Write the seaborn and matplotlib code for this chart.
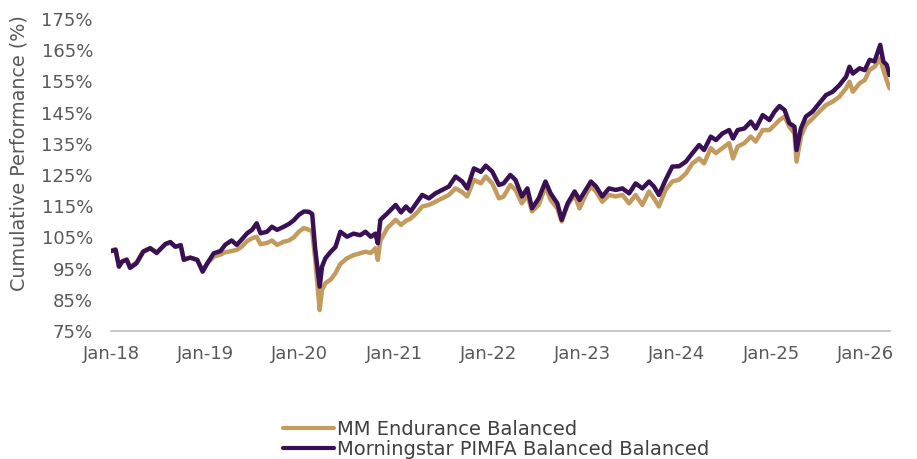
import matplotlib
matplotlib.use("Agg")
import matplotlib.pyplot as plt
import matplotlib.dates as mdates
import seaborn as sns
import pandas as pd

# ---------------- data ----------------
dates = [
    "2018-01-01", "2018-01-19", "2018-02-01", "2018-02-13", "2018-03-03", "2018-03-16",
    "2018-04-10", "2018-05-06", "2018-06-02", "2018-06-27", "2018-07-31", "2018-08-19",
    "2018-09-07", "2018-09-28", "2018-10-10", "2018-11-04", "2018-12-01", "2018-12-22",
    "2019-01-09", "2019-02-03", "2019-03-01", "2019-03-19", "2019-04-13", "2019-05-03",
    "2019-05-22", "2019-06-12", "2019-07-01", "2019-07-19", "2019-08-03", "2019-08-28",
    "2019-09-16", "2019-10-06", "2019-11-01", "2019-11-21", "2019-12-10", "2019-12-29",
    "2020-01-18", "2020-02-06", "2020-02-19", "2020-03-02", "2020-03-19", "2020-03-28",
    "2020-04-10", "2020-05-01", "2020-05-19", "2020-06-07", "2020-07-03", "2020-07-28",
    "2020-08-23", "2020-09-12", "2020-10-03", "2020-10-21", "2020-10-30", "2020-11-09",
    "2020-12-06", "2021-01-07", "2021-01-28", "2021-02-16", "2021-03-06", "2021-04-01",
    "2021-04-20", "2021-05-16", "2021-06-10", "2021-07-06", "2021-08-01", "2021-08-27",
    "2021-09-22", "2021-10-11", "2021-11-06", "2021-12-03", "2021-12-22", "2022-01-16",
    "2022-02-11", "2022-03-01", "2022-03-27", "2022-04-16", "2022-05-11", "2022-06-01",
    "2022-06-19", "2022-07-15", "2022-08-10", "2022-08-30", "2022-09-25", "2022-10-12",
    "2022-11-04", "2022-12-01", "2022-12-20", "2023-01-13", "2023-02-02", "2023-02-22",
    "2023-03-18", "2023-04-13", "2023-05-09", "2023-06-04", "2023-06-30", "2023-07-25",
    "2023-08-20", "2023-09-15", "2023-10-04", "2023-10-23", "2023-11-18", "2023-12-14",
    "2024-01-10", "2024-02-05", "2024-03-01", "2024-03-27", "2024-04-15", "2024-05-11",
    "2024-05-31", "2024-06-25", "2024-07-21", "2024-08-05", "2024-08-23", "2024-09-18",
    "2024-10-13", "2024-11-01", "2024-11-28", "2024-12-24", "2025-01-13", "2025-02-01",
    "2025-02-21", "2025-03-11", "2025-03-31", "2025-04-08", "2025-04-25", "2025-05-14",
    "2025-06-09", "2025-07-05", "2025-07-31", "2025-08-26", "2025-09-21", "2025-10-17",
    "2025-10-30", "2025-11-12", "2025-12-08", "2025-12-28", "2026-01-16", "2026-02-04",
    "2026-02-26", "2026-03-10", "2026-03-23", "2026-04-03",
]

morningstar = [
    100.6, 101.0, 95.6, 97.2, 97.8, 95.2,
    96.7, 100.4, 101.5, 100.0, 102.9, 103.5,
    102.0, 102.5, 97.8, 98.5, 97.8, 94.0,
    96.7, 99.9, 100.6, 102.6, 104.0, 102.6,
    104.3, 106.3, 107.4, 109.5, 106.3, 106.8,
    108.4, 107.4, 108.4, 109.3, 110.5, 112.2,
    113.3, 113.2, 112.5, 101.0, 89.2, 95.6,
    98.3, 100.4, 101.9, 106.8, 105.2, 106.2,
    105.7, 106.8, 105.2, 106.2, 103.1, 110.6,
    112.7, 115.4, 113.0, 114.9, 113.3, 116.4,
    118.6, 117.5, 119.1, 120.2, 121.3, 124.5,
    122.9, 120.7, 127.1, 126.0, 128.0, 126.1,
    121.8, 122.3, 125.0, 123.4, 118.1, 120.7,
    114.3, 117.5, 122.9, 119.1, 115.9, 110.6,
    115.9, 119.7, 117.0, 120.2, 122.9, 121.3,
    118.1, 120.7, 120.2, 120.7, 119.1, 122.3,
    120.7, 122.9, 121.3, 118.6, 123.4, 127.7,
    127.8, 129.3, 132.0, 134.6, 133.0, 137.3,
    136.2, 138.3, 139.4, 136.7, 139.4, 139.9,
    142.1, 139.9, 144.2, 142.6, 145.3, 147.1,
    145.8, 141.6, 140.5, 133.0, 139.9, 143.7,
    145.3, 148.0, 150.6, 151.7, 153.8, 156.5,
    159.7, 157.5, 159.2, 158.6, 161.9, 161.4,
    166.7, 161.4, 160.3, 157.0,
]

endurance = [
    100.8, 101.2, 95.8, 97.4, 98.0, 95.5,
    97.0, 100.6, 101.6, 100.2, 102.8, 103.3,
    102.0, 102.3, 98.0, 98.5, 97.8, 94.3,
    96.7, 98.8, 99.5, 100.2, 100.6, 101.0,
    102.0, 103.8, 104.7, 105.2, 102.8, 103.2,
    104.0, 102.6, 103.6, 104.0, 105.0, 106.8,
    108.0, 107.4, 107.0, 97.8, 81.7, 88.1,
    90.3, 91.5, 93.5, 96.5, 98.3, 99.3,
    99.9, 100.4, 100.0, 101.5, 97.8, 104.0,
    108.0, 110.6, 109.0, 110.3, 111.0, 113.0,
    114.9, 115.4, 116.4, 117.5, 118.6, 120.7,
    119.5, 118.1, 123.4, 122.3, 124.5, 122.3,
    117.5, 118.1, 121.8, 120.2, 115.9, 118.6,
    113.3, 115.4, 121.3, 117.0, 114.3, 110.1,
    115.4, 118.6, 114.3, 118.6, 121.3, 119.7,
    116.4, 118.6, 118.1, 118.6, 115.9, 118.6,
    115.4, 119.7, 117.5, 114.9, 120.2, 122.9,
    123.5, 125.5, 128.7, 130.3, 128.7, 133.6,
    132.0, 133.6, 135.2, 130.3, 134.1, 135.2,
    137.3, 135.7, 139.4, 139.4, 141.0, 142.6,
    143.7, 140.5, 138.3, 129.3, 137.3, 141.0,
    143.1, 145.3, 147.4, 148.5, 150.1, 152.8,
    154.9, 151.7, 154.4, 155.4, 158.7, 159.7,
    162.4, 158.7, 155.4, 152.8,
]

series_names = ["MM Endurance Balanced", "Morningstar PIMFA Balanced Balanced"]
series_colors = ["#C39B5E", "#3A1055"]
y_ticks = list(range(75, 176, 10))
x_tick_dates = [f"{y}-01-01" for y in range(2018, 2027)]
x_tick_labels = [f"Jan-{y % 100:02d}" for y in range(2018, 2027)]

# ---------------- build long-form table ----------------
dt = pd.to_datetime(dates)
df = pd.concat([
    pd.DataFrame({"Date": dt, "Value": endurance, "Series": series_names[0]}),
    pd.DataFrame({"Date": dt, "Value": morningstar, "Series": series_names[1]}),
], ignore_index=True)

sns.set_style("white")
plt.rcParams["font.family"] = ["DejaVu Sans"]

fig = plt.figure(figsize=(9.17, 4.59), dpi=100)
ax = fig.add_axes([0.121, 0.279, 0.8496, 0.6796])

sns.lineplot(data=df, x="Date", y="Value", hue="Series", hue_order=series_names,
             palette=dict(zip(series_names, series_colors)), linewidth=3.2,
             ax=ax, legend=True)

ax.set_ylim(75, 175)
ax.set_yticks(y_ticks)
ax.set_yticklabels([f"{v}%" for v in y_ticks])
ax.set_xlim(pd.Timestamp("2018-01-01"), pd.Timestamp("2026-04-05"))
ax.set_xticks(pd.to_datetime(x_tick_dates))
ax.set_xticklabels(x_tick_labels)

text_color = "#595959"
ax.tick_params(axis="y", length=0, labelsize=13, labelcolor=text_color, pad=13)
ax.tick_params(axis="x", length=5, width=1, color="#BFBFBF", labelsize=13,
               labelcolor=text_color, pad=5, direction="out")
for s in ["top", "right", "left"]:
    ax.spines[s].set_visible(False)
ax.spines["bottom"].set_color("#BFBFBF")
ax.spines["bottom"].set_linewidth(1.2)

ax.set_xlabel("")
ax.set_ylabel("Cumulative Performance (%)", fontsize=13.8, color=text_color)
ax.yaxis.set_label_coords(-0.106, 0.57)

leg = ax.legend(loc="upper left", bbox_to_anchor=(0.298, 0.106), bbox_transform=fig.transFigure,
                frameon=False, fontsize=14, handlelength=2.6, handletextpad=0.2,
                labelspacing=0.05, borderpad=0)
for t in leg.get_texts():
    t.set_color("#404040")
for l in leg.get_lines():
    l.set_linewidth(3)

fig.savefig("out.png", dpi=100)
